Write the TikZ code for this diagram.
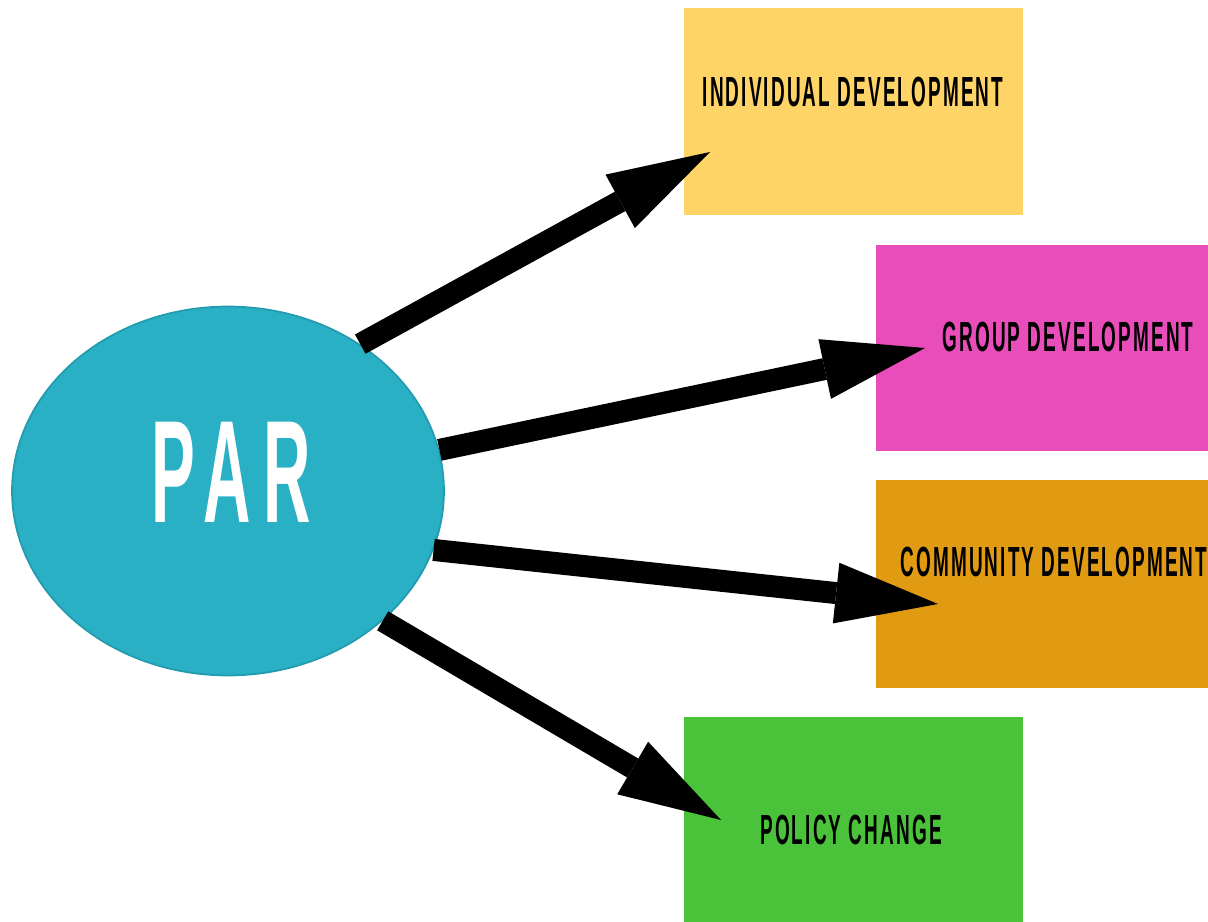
\documentclass[tikz,border=0pt]{standalone}
\usepackage{fontspec}
\usetikzlibrary{positioning, calc, arrows.meta, shapes.geometric}

\newfontfamily\labelfont[FakeStretch=0.45,LetterSpace=5]{Liberation Sans}
\newfontfamily\parfont[FakeStretch=0.45,LetterSpace=9]{Liberation Sans}

\definecolor{parblue}{RGB}{42,176,197}
\definecolor{parborder}{RGB}{35,155,175}
\definecolor{indyellow}{RGB}{255,212,102}
\definecolor{grppink}{RGB}{233,77,186}
\definecolor{comorange}{RGB}{224,155,18}
\definecolor{polgreen}{RGB}{74,195,58}

\tikzset{
  devbox/.style={rectangle, draw=none, inner sep=0pt},
  devlabel/.style={font=\labelfont\bfseries\fontsize{24}{24}\selectfont, text=black, inner sep=0pt},
  bigarrow/.style={line width=0.44cm, draw=black,
    -{Triangle[length=2.05cm, width=1.22cm, line width=0pt]}},
}

\begin{document}
\begin{tikzpicture}[x=0.02cm, y=-0.02cm]
  \useasboundingbox (0,0) rectangle (1208,922);

  % 中心の楕円
  \node[ellipse, fill=parblue, draw=parborder, line width=1pt,
        minimum width=8.64cm, minimum height=7.38cm] (par) at (228,491) {};
  \node[font=\parfont\bfseries\fontsize{83}{83}\selectfont, text=white, inner sep=0pt]
        (partxt) at (231,472) {PAR};

  % 四つの箱
  \node[devbox, fill=indyellow, minimum width=6.78cm, minimum height=4.14cm] (ind) at (853.5,111.5) {};
  \node[devbox, fill=grppink, minimum width=6.64cm, minimum height=4.12cm] (grp) at (1042,348) {};
  \node[devbox, fill=comorange, minimum width=6.64cm, minimum height=4.16cm] (com) at (1042,584) {};
  \node[devbox, fill=polgreen, minimum width=6.78cm, minimum height=4.10cm] (pol) at (853.5,819.5) {};

  \node[devlabel] (indtxt) at (853,92) {INDIVIDUAL DEVELOPMENT};
  \node[devlabel] (grptxt) at (1068,337) {GROUP DEVELOPMENT};
  \node[devlabel] (comtxt) at (1054,562) {COMMUNITY DEVELOPMENT};
  \node[devlabel] (poltxt) at (851,830) {POLICY CHANGE};

  % 矢印の先端
  \coordinate (indtip) at (710,152);
  \coordinate (grptip) at (925,348);
  \coordinate (comtip) at (938,604);
  \coordinate (poltip) at (721,820);

  \draw[bigarrow] (par.48) -- (indtip);
  \draw[bigarrow] (par.11.3) -- (grptip);
  \draw[bigarrow] (par.-16.6) -- (comtip);
  \draw[bigarrow] (par.-40.7) -- (poltip);
\end{tikzpicture}
\end{document}
